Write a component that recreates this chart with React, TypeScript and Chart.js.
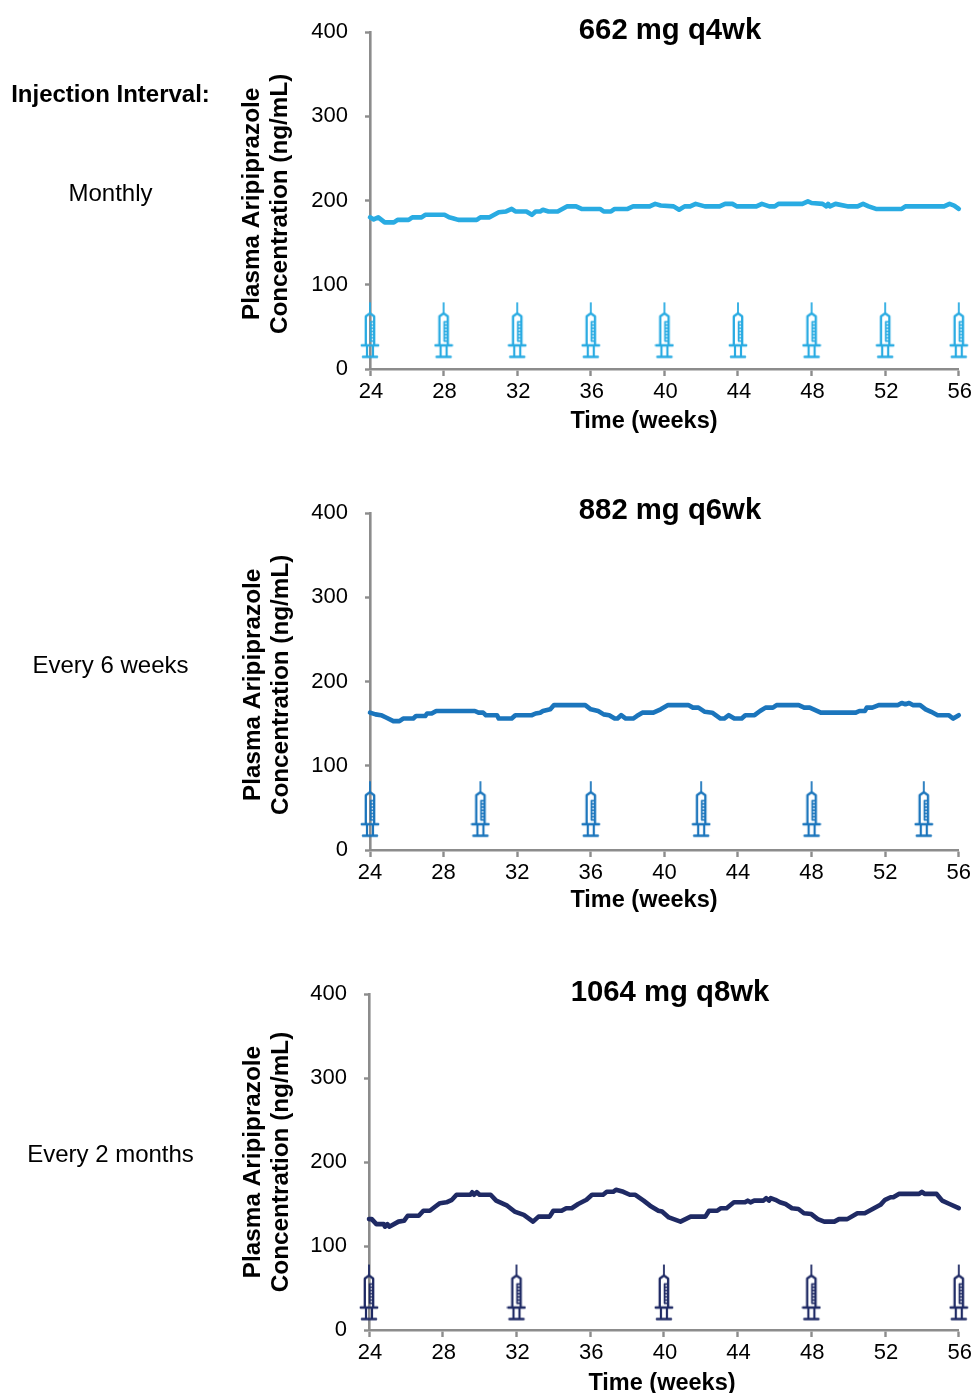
import React, { useEffect, useRef } from "react";
import { Chart, registerables } from "chart.js";

Chart.register(...registerables);

const FONT = '"Liberation Sans", Arial, sans-serif';
const AXIS_COLOR = "#8c8c8c";

const Y_TITLES = [
  ["Plasma Aripiprazole ", "Concentration (ng/mL) "],
  ["Plasma Aripiprazole ", "Concentration (ng/mL) "],
  ["Plasma Aripiprazole", "Concentration (ng/mL)"],
];
const X_TITLE = "Time (weeks)";

const monthlyWeeks = [24, 24.2, 24.45, 24.8, 25.3, 25.5, 26.1, 26.3, 26.8, 27, 28.05, 28.3, 28.5, 28.8, 29.8, 30, 30.5, 31, 31.4, 31.7, 31.9, 32.5, 32.8, 33, 33.25, 33.4, 33.7, 34.2, 34.7, 35.2, 35.5, 36.5, 36.7, 37.1, 37.3, 38, 38.3, 39.2, 39.5, 39.8, 40.5, 40.8, 41.1, 41.4, 41.7, 42.2, 43, 43.3, 43.7, 43.95, 45, 45.3, 45.7, 46, 46.2, 47.5, 47.8, 48, 48.6, 48.8, 48.9, 49, 49.3, 50, 50.5, 50.8, 51.1, 51.5, 52.9, 53.1, 55.2, 55.5, 55.75, 56];
const monthlyConc = [180, 177.5, 180, 174, 174, 177, 177, 180, 180, 183, 183, 180, 179, 177, 177, 180, 180, 186, 187, 190, 187, 187, 183, 187, 187, 189, 187, 187, 193, 193, 190, 190, 187, 187, 190, 190, 193, 193, 196, 194, 193, 189, 193, 193, 196, 193, 193, 196, 196, 193, 193, 196, 193, 193, 196, 196, 199, 197, 196, 193, 196, 193, 196, 193, 193, 196, 193, 190, 190, 193, 193, 196, 194, 190];
const monthlyDoses = [24, 28, 32, 36, 40, 44, 48, 52, 56];

const sixWeekWeeks = [24, 24.3, 24.6, 24.9, 25.27, 25.6, 25.8, 26.35, 26.5, 27, 27.1, 27.35, 27.6, 29.7, 29.9, 30.15, 30.3, 30.9, 31, 31.7, 31.9, 32.8, 33, 33.25, 33.4, 33.8, 34, 35.7, 36, 36.4, 36.7, 37, 37.3, 37.45, 37.65, 37.9, 38.3, 38.5, 38.8, 39.4, 39.8, 40.2, 41.3, 41.55, 41.85, 42.2, 42.6, 43.05, 43.25, 43.5, 43.8, 44.2, 44.4, 44.9, 45.2, 45.5, 45.9, 46.1, 47.3, 47.6, 47.9, 48.2, 48.5, 50.4, 50.6, 50.9, 51, 51.3, 51.65, 52.7, 52.9, 53.1, 53.3, 53.5, 53.9, 54.2, 54.5, 54.85, 55.45, 55.7, 56];
const sixWeekConc = [163, 161, 160, 157, 153, 153, 156, 156, 159, 159, 162, 162, 165, 165, 163, 163, 160, 160, 156, 156, 160, 160, 162, 163, 165, 167, 172, 172, 167, 165, 161, 160, 156, 156, 160, 156, 156, 159, 163, 163, 167, 172, 172, 169, 169, 164, 163, 156, 156, 160, 156, 156, 160, 160, 165, 169, 169, 172, 172, 169, 169, 166, 163, 163, 165, 165, 169, 169, 172, 172, 174.5, 173, 174.5, 172, 172, 167, 164, 160, 160, 156, 160];
const sixWeekDoses = [24, 30, 36, 42, 48, 54.1];

const eightWeekWeeks = [24, 24.15, 24.4, 24.8, 24.87, 25, 25.1, 25.6, 25.9, 26.1, 26.7, 26.95, 27.3, 27.6, 27.85, 28.2, 28.5, 28.75, 29.5, 29.6, 29.7, 29.85, 30, 30.6, 30.9, 31.5, 31.9, 32.4, 32.9, 33.2, 33.8, 34, 34.45, 34.7, 35, 35.35, 35.8, 36.1, 36.7, 36.9, 37.25, 37.4, 37.8, 38.15, 38.45, 38.9, 39.25, 39.7, 39.9, 40.27, 40.9, 41.45, 42.25, 42.45, 42.9, 43.1, 43.4, 43.8, 44.4, 44.55, 44.7, 44.9, 45.4, 45.55, 45.7, 45.8, 46.05, 46.3, 46.6, 46.95, 47.3, 47.6, 48, 48.35, 48.7, 49.25, 49.5, 49.95, 50.5, 50.9, 51.75, 52, 52.3, 52.45, 52.75, 53.85, 54, 54.15, 54.8, 55.1, 55.5, 56];
const eightWeekConc = [132, 132, 126, 126, 123, 126, 123, 129, 130, 136, 136, 142, 142, 147, 151, 152, 155, 161, 161, 164, 161, 164, 161, 161, 154, 148, 141, 137, 129, 135, 135, 142, 142, 145, 145, 150, 155, 161, 161, 164.5, 164.5, 167, 164.5, 161, 161, 154, 148, 142, 141, 134, 129, 135, 135, 142, 142, 145, 145, 152, 152, 154, 152, 154, 154, 157, 154, 157, 155, 152, 150, 145, 144, 139, 138, 132, 129, 129, 132, 132, 139, 139, 149, 155, 158, 158, 162, 162, 164.5, 162, 162, 154, 150, 145];
const eightWeekDoses = [24, 32, 40, 48, 56];

const syringeHeights = [45.9, 48.4, 44.6];
const titles = ["662 mg q4wk", "882 mg q6wk", "1064 mg q8wk"];
const sideLabels = ["Monthly", "Every 6 weeks", "Every 2 months"];
const colors = ["#29abe2", "#1b75bc", "#1f2a64"];

const panels = [
  { weeks: monthlyWeeks, conc: monthlyConc, doses: monthlyDoses, left: 370, top: 32, bottom: 369, canvasTop: 0, titleX: 250, xTitle: 644, xTitleY: 420, titleY: 29, sideY: 193, xLabelShift: 1 },
  { weeks: sixWeekWeeks, conc: sixWeekConc, doses: sixWeekDoses, left: 370, top: 513, bottom: 850, canvasTop: 470, titleX: 251, xTitle: 644, xTitleY: 899, titleY: 509, sideY: 665, xLabelShift: 0 },
  { weeks: eightWeekWeeks, conc: eightWeekConc, doses: eightWeekDoses, left: 369, top: 994, bottom: 1330, canvasTop: 950, titleX: 251, xTitle: 662, xTitleY: 1382, titleY: 991, sideY: 1154, xLabelShift: 1 },
];

function makeSyringe(color: string): HTMLCanvasElement {
  const c = document.createElement("canvas");
  c.width = 20;
  c.height = 58;
  const g = c.getContext("2d")!;
  const cx = 10;
  g.strokeStyle = color;
  g.lineCap = "butt";
  g.lineJoin = "round";
  g.lineWidth = 1.8;
  const seg = (x1: number, y1: number, x2: number, y2: number) => {
    g.beginPath();
    g.moveTo(x1, y1);
    g.lineTo(x2, y2);
    g.stroke();
  };
  seg(cx, 1, cx, 12);
  g.lineWidth = 2.3;
  g.beginPath();
  g.moveTo(cx - 4.2, 44);
  g.lineTo(cx - 4.2, 15);
  g.lineTo(cx, 12);
  g.lineTo(cx + 4.2, 15);
  g.lineTo(cx + 4.2, 44);
  g.stroke();
  g.lineWidth = 2.4;
  g.lineCap = "round";
  seg(cx - 8.2, 44, cx + 8.2, 44);
  seg(cx - 7, 55.5, cx + 7, 55.5);
  g.lineCap = "butt";
  g.lineWidth = 2.2;
  seg(cx - 3, 44, cx - 3, 55);
  seg(cx + 3, 44, cx + 3, 55);
  g.lineWidth = 1.7;
  seg(cx + 0.6, 20, cx + 0.6, 40);
  for (let y = 20.5; y < 41; y += 3.2) seg(cx, y, cx + 4, y);
  return c;
}

function Panel({ index }: { index: number }) {
  const ref = useRef<HTMLCanvasElement>(null);
  const p = panels[index];
  const color = colors[index];
  const height = p.bottom - p.canvasTop + 44;

  useEffect(() => {
    const chart = new Chart(ref.current!, {
      type: "scatter",
      data: {
        datasets: [
          {
            data: p.weeks.map((w, i) => ({ x: w, y: p.conc[i] })),
            showLine: true,
            borderColor: color,
            borderWidth: 4.6,
            borderJoinStyle: "round",
            borderCapStyle: "round",
            pointRadius: 0,
            tension: 0,
            clip: false,
          },
          {
            data: p.doses.map((w) => ({ x: w, y: syringeHeights[index] })),
            showLine: false,
            pointStyle: makeSyringe(color),
            pointRadius: 10,
            clip: false,
          },
        ],
      } as any,
      options: {
        responsive: false,
        animation: false,
        devicePixelRatio: 1,
        layout: {
          padding: { left: p.titleX - 12, right: 15, top: p.top - p.canvasTop, bottom: 0 },
        },
        plugins: { legend: { display: false }, tooltip: { enabled: false }, title: { display: false } },
        scales: {
          x: {
            type: "linear",
            min: 24,
            max: 56,
            afterFit: (s: any) => {
              s.height = 44;
            },
            border: { color: AXIS_COLOR, width: 2.6 },
            grid: { drawOnChartArea: false, drawTicks: true, tickLength: 7, tickColor: AXIS_COLOR, tickWidth: 2.4 },
            ticks: { stepSize: 4, maxRotation: 0, padding: 3, labelOffset: p.xLabelShift, color: "#000", font: { family: FONT, size: 22 } },
          },
          y: {
            type: "linear",
            min: 0,
            max: 400,
            afterFit: (s: any) => {
              s.width = p.left - (p.titleX - 12);
            },
            border: { color: AXIS_COLOR, width: 2.6 },
            grid: { drawOnChartArea: false, drawTicks: true, tickLength: 5, tickColor: AXIS_COLOR, tickWidth: 2.4 },
            ticks: { stepSize: 100, padding: 17, labelOffset: 0, color: "#000", font: { family: FONT, size: 22 } },
            title: {
              display: true,
              text: Y_TITLES[index],
              color: "#000",
              padding: 0,
              font: { family: FONT, size: 24.3, weight: "bold", lineHeight: 1.15 },
            },
          },
        },
      } as any,
    });
    return () => chart.destroy();
  }, []);

  return (
    <canvas
      ref={ref}
      width={974}
      height={height}
      style={{ position: "absolute", left: 0, top: p.canvasTop, width: 974, height }}
    />
  );
}

function Label(props: { x: number; y: number; size: number; bold?: boolean; text: string }) {
  return (
    <div
      style={{
        position: "absolute",
        left: props.x - 200,
        width: 400,
        top: props.y - 20,
        height: 40,
        lineHeight: "40px",
        textAlign: "center",
        whiteSpace: "nowrap",
        fontFamily: FONT,
        fontSize: props.size,
        fontWeight: props.bold ? 700 : 400,
        color: "#000",
      }}
    >
      {props.text}
    </div>
  );
}

export default function App() {
  return (
    <div style={{ position: "absolute", left: 0, top: 0, width: 974, height: 1393, overflow: "hidden", background: "#fff" }}>
      {panels.map((p, i) => (
        <Panel key={i} index={i} />
      ))}
      {panels.map((p, i) => (
        <React.Fragment key={i}>
          <Label x={670} y={p.titleY} size={29.3} bold text={titles[i]} />
          <Label x={p.xTitle} y={p.xTitleY} size={23.5} bold text={X_TITLE} />
          <Label x={110.5} y={p.sideY} size={24} text={sideLabels[i]} />
        </React.Fragment>
      ))}
      <Label x={110.5} y={94} size={24} bold text="Injection Interval:" />
    </div>
  );
}
